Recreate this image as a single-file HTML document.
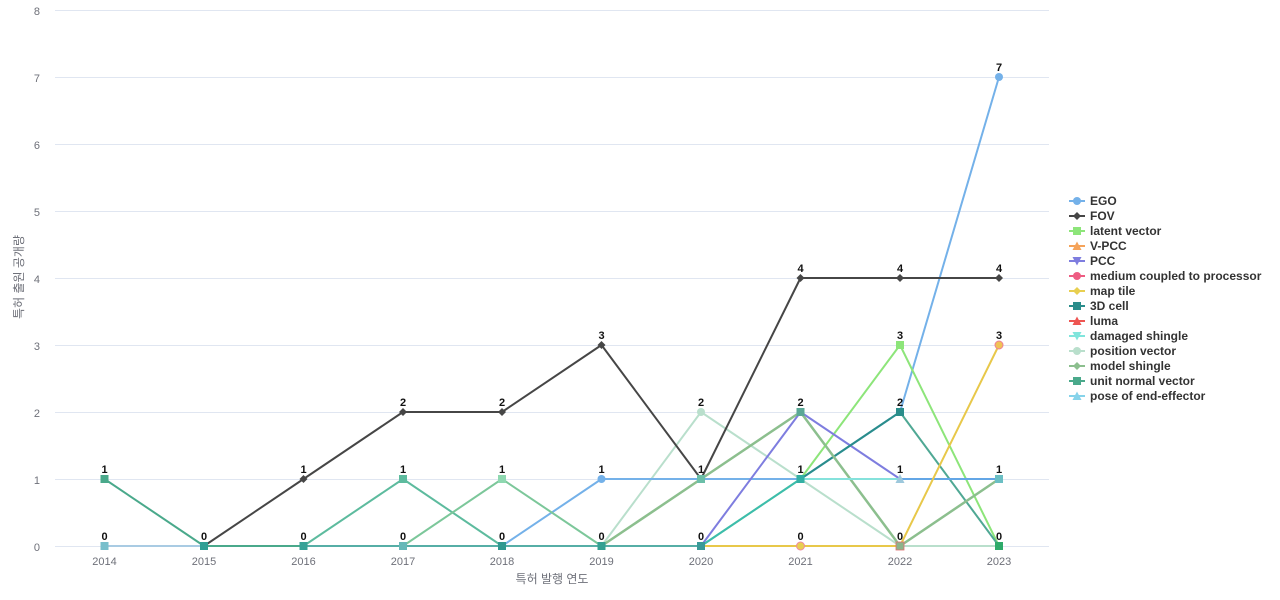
<!DOCTYPE html>
<html><head><meta charset="utf-8"><style>
html,body{margin:0;padding:0;background:#fff;}
svg{display:block;font-family:"Liberation Sans","Noto Sans CJK KR",sans-serif;}
.t{font-size:11px;fill:#6e7079;}
.lb{font-size:11px;font-weight:bold;fill:#111;text-anchor:middle;}
.lg{font-size:12px;font-weight:bold;fill:#333;}
</style></head><body>
<svg width="1280" height="600" viewBox="0 0 1280 600" xmlns="http://www.w3.org/2000/svg">
<!-- grid -->
<g stroke="#e0e6f1" stroke-width="1">
<line x1="55" y1="10.5" x2="1049" y2="10.5"/>
<line x1="55" y1="77.5" x2="1049" y2="77.5"/>
<line x1="55" y1="144.5" x2="1049" y2="144.5"/>
<line x1="55" y1="211.5" x2="1049" y2="211.5"/>
<line x1="55" y1="278.5" x2="1049" y2="278.5"/>
<line x1="55" y1="345.5" x2="1049" y2="345.5"/>
<line x1="55" y1="412.5" x2="1049" y2="412.5"/>
<line x1="55" y1="479.5" x2="1049" y2="479.5"/>
<line x1="55" y1="546.5" x2="1049" y2="546.5"/>
</g>
<g class="t" text-anchor="end">
<text x="40" y="15">8</text><text x="40" y="82">7</text><text x="40" y="149">6</text>
<text x="40" y="216">5</text><text x="40" y="283">4</text><text x="40" y="350">3</text>
<text x="40" y="417">2</text><text x="40" y="484">1</text><text x="40" y="551">0</text>
</g>
<g class="t" text-anchor="middle">
<text x="104.5" y="565">2014</text><text x="204" y="565">2015</text><text x="303.5" y="565">2016</text>
<text x="403" y="565">2017</text><text x="502" y="565">2018</text><text x="601.5" y="565">2019</text>
<text x="701" y="565">2020</text><text x="800.5" y="565">2021</text><text x="900" y="565">2022</text>
<text x="999" y="565">2023</text>
</g>
<text x="552" y="583" text-anchor="middle" style="font-size:12px;fill:#6e7079">특허 발행 연도</text>
<text transform="translate(23,277) rotate(-90)" text-anchor="middle" style="font-size:12px;fill:#6e7079">특허 출원 공개량</text>

<!-- series -->
<g fill="none" stroke-width="2" stroke-linejoin="round">
<polyline stroke="#b8cde0" points="104.5,546 999,546"/>
<polyline stroke="#b9dfcc" points="502,546 601.5,546 701,412 800.5,479 900,546 999,546"/>
<polyline stroke="#74b1e9" points="104.5,546 502,546 601.5,479 701,479 800.5,479 900,412 999,77"/>
<polyline stroke="#a9cbe3" points="104.5,546 204,546"/>
<polyline stroke="#56aea6" points="204,546 701,546"/>
<polyline stroke="#8de57a" points="701,546 800.5,479 900,345 999,546"/>
<polyline stroke="#7e7ddf" points="701,546 800.5,412 900,479"/>
<polyline stroke="#2a8d8b" points="800.5,479 900,412"/>
<polyline stroke="#4aa98b" points="104.5,479 204,546 303.5,546"/>
<polyline stroke="#5dbb9e" points="303.5,546 403,479 502,546"/>
<polyline stroke="#4fa894" points="900,412 999,546"/>
<polyline stroke="#7cc79a" points="403,546 502,479 601.5,546"/>
<polyline stroke="#8cbf8e" stroke-width="2.5" points="601.5,546 701,479 800.5,412 900,546 999,479"/>
<polyline stroke="#3cbcae" points="701,546 800.5,479"/>
<polyline stroke="#85e2dc" points="800.5,479 900,479"/>
<polyline stroke="#63a6e6" points="900,479 999,479"/>
<polyline stroke="#e8c84a" points="701,546 900,546 999,345"/>
<polyline stroke="#464646" points="204,546 303.5,479 403,412 502,412 601.5,345 701,479 800.5,278 900,278 999,278"/>
</g>

<!-- markers -->
<g>
<circle cx="601.5" cy="479" r="4" fill="#74b1e9"/>
<circle cx="999" cy="77" r="4" fill="#74b1e9"/>
<circle cx="701" cy="412" r="4" fill="#b9dfcc"/>
<rect x="896" y="341" width="8" height="8" fill="#8de57a"/>
<rect x="896" y="408" width="8" height="8" fill="#2a8d8b"/>
<rect x="100.5" y="475" width="8" height="8" fill="#4aa98b"/>
<rect x="399" y="475" width="8" height="8" fill="#5dbb9e"/>
<rect x="498" y="475" width="8" height="8" fill="#8ed8b0"/>
<rect x="796.5" y="408" width="8" height="8" fill="#5aa896"/>
<rect x="796.5" y="475" width="8" height="8" fill="#33b0a4"/>
<rect x="697" y="475" width="8" height="8" fill="#6bbfa8"/>
<polygon points="900,474 904.5,483 895.5,483" fill="#9dc8dc"/>
<rect x="995" y="475" width="8" height="8" fill="#6bbfc4"/>
<rect x="100.5" y="542" width="8" height="8" fill="#78bfcc"/>
<rect x="200" y="542" width="8" height="8" fill="#2f9e94"/>
<rect x="299.5" y="542" width="8" height="8" fill="#37a297"/>
<rect x="399" y="542" width="8" height="8" fill="#66b8b8"/>
<rect x="498" y="542" width="8" height="8" fill="#2f9890"/>
<rect x="597.5" y="542" width="8" height="8" fill="#33a092"/>
<rect x="697" y="542" width="8" height="8" fill="#3a9a98"/>
<circle cx="800.5" cy="546" r="4" fill="#e8cf50" stroke="#ef8aa0" stroke-width="1"/>
<rect x="896" y="542" width="8" height="8" fill="#8cb48a" stroke="#e07070" stroke-width="0.8"/>
<rect x="995" y="542" width="8" height="8" fill="#2eaa6a"/>
<circle cx="999" cy="345" r="4" fill="#f0c255" stroke="#ef7f95" stroke-width="1"/>
<g fill="#464646">
<polygon points="303.5,475 307.5,479 303.5,483 299.5,479"/>
<polygon points="403,408 407,412 403,416 399,412"/>
<polygon points="502,408 506,412 502,416 498,412"/>
<polygon points="601.5,341 605.5,345 601.5,349 597.5,345"/>
<polygon points="800.5,274 804.5,278 800.5,282 796.5,278"/>
<polygon points="900,274 904,278 900,282 896,278"/>
<polygon points="999,274 1003,278 999,282 995,278"/>
</g>
</g>

<!-- value labels -->
<g class="lb">
<text x="104.5" y="473">1</text><text x="104.5" y="540">0</text>
<text x="204" y="540">0</text>
<text x="303.5" y="473">1</text><text x="303.5" y="540">0</text>
<text x="403" y="406">2</text><text x="403" y="473">1</text><text x="403" y="540">0</text>
<text x="502" y="406">2</text><text x="502" y="473">1</text><text x="502" y="540">0</text>
<text x="601.5" y="339">3</text><text x="601.5" y="473">1</text><text x="601.5" y="540">0</text>
<text x="701" y="406">2</text><text x="701" y="473">1</text><text x="701" y="540">0</text>
<text x="800.5" y="272">4</text><text x="800.5" y="406">2</text><text x="800.5" y="473">1</text><text x="800.5" y="540">0</text>
<text x="900" y="272">4</text><text x="900" y="339">3</text><text x="900" y="406">2</text><text x="900" y="473">1</text><text x="900" y="540">0</text>
<text x="999" y="71">7</text><text x="999" y="272">4</text><text x="999" y="339">3</text><text x="999" y="473">1</text><text x="999" y="540">0</text>
</g>

<!-- legend -->
<g stroke-width="2">
<line x1="1069" y1="201" x2="1085" y2="201" stroke="#74b1e9"/>
<line x1="1069" y1="216" x2="1085" y2="216" stroke="#464646"/>
<line x1="1069" y1="231" x2="1085" y2="231" stroke="#8de57a"/>
<line x1="1069" y1="246" x2="1085" y2="246" stroke="#f5a35a"/>
<line x1="1069" y1="261" x2="1085" y2="261" stroke="#7e7ddf"/>
<line x1="1069" y1="276" x2="1085" y2="276" stroke="#ee5c82"/>
<line x1="1069" y1="291" x2="1085" y2="291" stroke="#e8cf50"/>
<line x1="1069" y1="306" x2="1085" y2="306" stroke="#2a8d8b"/>
<line x1="1069" y1="321" x2="1085" y2="321" stroke="#ee5552"/>
<line x1="1069" y1="336" x2="1085" y2="336" stroke="#80e5dc"/>
<line x1="1069" y1="351" x2="1085" y2="351" stroke="#b9dfcc"/>
<line x1="1069" y1="366" x2="1085" y2="366" stroke="#8cbf8e"/>
<line x1="1069" y1="381" x2="1085" y2="381" stroke="#4aa98b"/>
<line x1="1069" y1="396" x2="1085" y2="396" stroke="#86d3ea"/>
</g>
<g>
<circle cx="1077" cy="201" r="4" fill="#74b1e9"/>
<polygon points="1077,212 1081,216 1077,220 1073,216" fill="#464646"/>
<rect x="1073" y="227" width="8" height="8" fill="#8de57a"/>
<polygon points="1077,241.5 1081.5,250 1072.5,250" fill="#f5a35a"/>
<polygon points="1072.5,257 1081.5,257 1077,265.5" fill="#7e7ddf"/>
<circle cx="1077" cy="276" r="4" fill="#ee5c82"/>
<polygon points="1077,287 1081,291 1077,295 1073,291" fill="#e8cf50"/>
<rect x="1073" y="302" width="8" height="8" fill="#2a8d8b"/>
<polygon points="1077,316.5 1081.5,325 1072.5,325" fill="#ee5552"/>
<polygon points="1072.5,332 1081.5,332 1077,340.5" fill="#80e5dc"/>
<circle cx="1077" cy="351" r="4" fill="#b9dfcc"/>
<polygon points="1077,362 1081,366 1077,370 1073,366" fill="#8cbf8e"/>
<rect x="1073" y="377" width="8" height="8" fill="#4aa98b"/>
<polygon points="1077,391.5 1081.5,400 1072.5,400" fill="#86d3ea"/>
</g>
<g class="lg">
<text x="1090" y="205">EGO</text>
<text x="1090" y="220">FOV</text>
<text x="1090" y="235">latent vector</text>
<text x="1090" y="250">V-PCC</text>
<text x="1090" y="265">PCC</text>
<text x="1090" y="280">medium coupled to processor</text>
<text x="1090" y="295">map tile</text>
<text x="1090" y="310">3D cell</text>
<text x="1090" y="325">luma</text>
<text x="1090" y="340">damaged shingle</text>
<text x="1090" y="355">position vector</text>
<text x="1090" y="370">model shingle</text>
<text x="1090" y="385">unit normal vector</text>
<text x="1090" y="400">pose of end-effector</text>
</g>
</svg>
</body></html>
